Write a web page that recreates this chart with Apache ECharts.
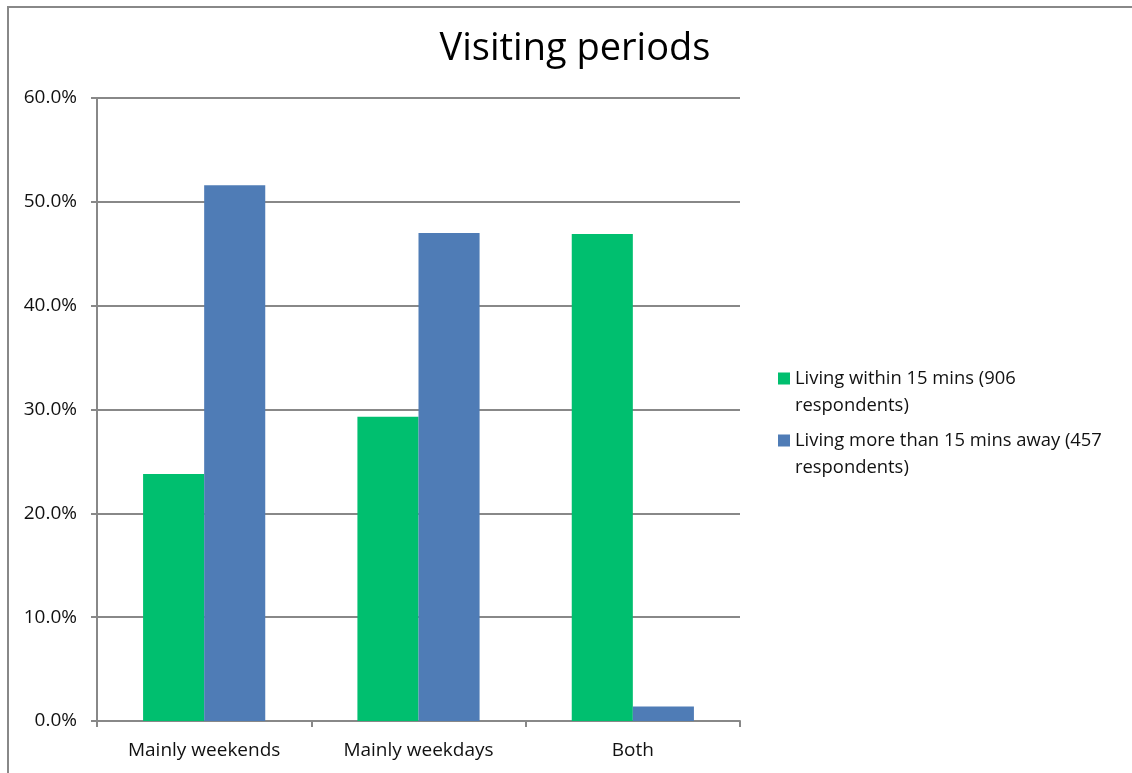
<!DOCTYPE html>
<html>
<head>
<meta charset="utf-8">
<script src="https://cdn.jsdelivr.net/npm/echarts@6/dist/echarts.min.js"></script>
<style>
  html, body { margin: 0; padding: 0; background: #fff; }
  #chart { width: 1132px; height: 773px; }
</style>
</head>
<body>
<div id="chart"></div>
<script>
// Share of respondents by visiting period
const categories = ['Mainly weekends', 'Mainly weekdays', 'Both'];
const seriesNames = ['Living within 15 mins (906\nrespondents)', 'Living more than 15 mins away (457\nrespondents)'];
const withinValues = [23.8, 29.3, 46.9];
const awayValues = [51.6, 47.0, 1.4];
const yTicks = { min: 0, max: 60, interval: 10 };

const font = 'Open Sans, Noto Sans, sans-serif';
// Legend marker: a square sitting beside the first line of a two-line label
const legendIcon = 'path://M0,0h12v12h-12z M0,38.9h0.1v0.1h-0.1z';

const chart = echarts.init(document.getElementById('chart'), null, { renderer: 'canvas' });

chart.setOption({
  backgroundColor: '#fff',
  animation: false,
  title: {
    text: 'Visiting periods',
    left: 570, top: 25, textAlign: 'center',
    textStyle: { fontFamily: font, fontSize: 38, fontWeight: 'normal', color: '#000' }
  },
  graphic: [{
    type: 'rect',
    shape: { x: 8, y: 7, width: 1140, height: 780 },
    style: { fill: 'none', stroke: '#888', lineWidth: 2 },
    silent: true
  }],
  legend: {
    orient: 'vertical',
    left: 773, top: 360,
    itemWidth: 12, itemHeight: 39, itemGap: 8,
    icon: legendIcon,
    textStyle: { fontFamily: font, fontSize: 18.4, color: '#111', lineHeight: 27 },
    data: seriesNames
  },
  grid: { left: 97, right: 392, top: 98, bottom: 52 },
  xAxis: {
    type: 'category',
    data: categories,
    axisLine: { lineStyle: { color: '#888', width: 2 } },
    axisTick: { show: true, length: 6, lineStyle: { color: '#888', width: 2 } },
    axisLabel: { fontFamily: font, fontSize: 19, color: '#111', margin: 20 }
  },
  yAxis: {
    type: 'value',
    min: yTicks.min, max: yTicks.max, interval: yTicks.interval,
    axisLine: { show: true, lineStyle: { color: '#888', width: 2 } },
    axisTick: { show: true, length: 6, lineStyle: { color: '#888', width: 2 } },
    splitLine: { lineStyle: { color: '#888', width: 2 } },
    axisLabel: {
      fontFamily: font, fontSize: 19, color: '#111', margin: 20,
      formatter: v => v.toFixed(1) + '%'
    }
  },
  series: [
    {
      name: seriesNames[0], type: 'bar', data: withinValues,
      itemStyle: { color: '#00BF6F' },
      barGap: '0%', barCategoryGap: '43%'
    },
    {
      name: seriesNames[1], type: 'bar', data: awayValues,
      itemStyle: { color: '#4F7CB6' },
      barGap: '0%', barCategoryGap: '43%'
    }
  ]
});
</script>
</body>
</html>
